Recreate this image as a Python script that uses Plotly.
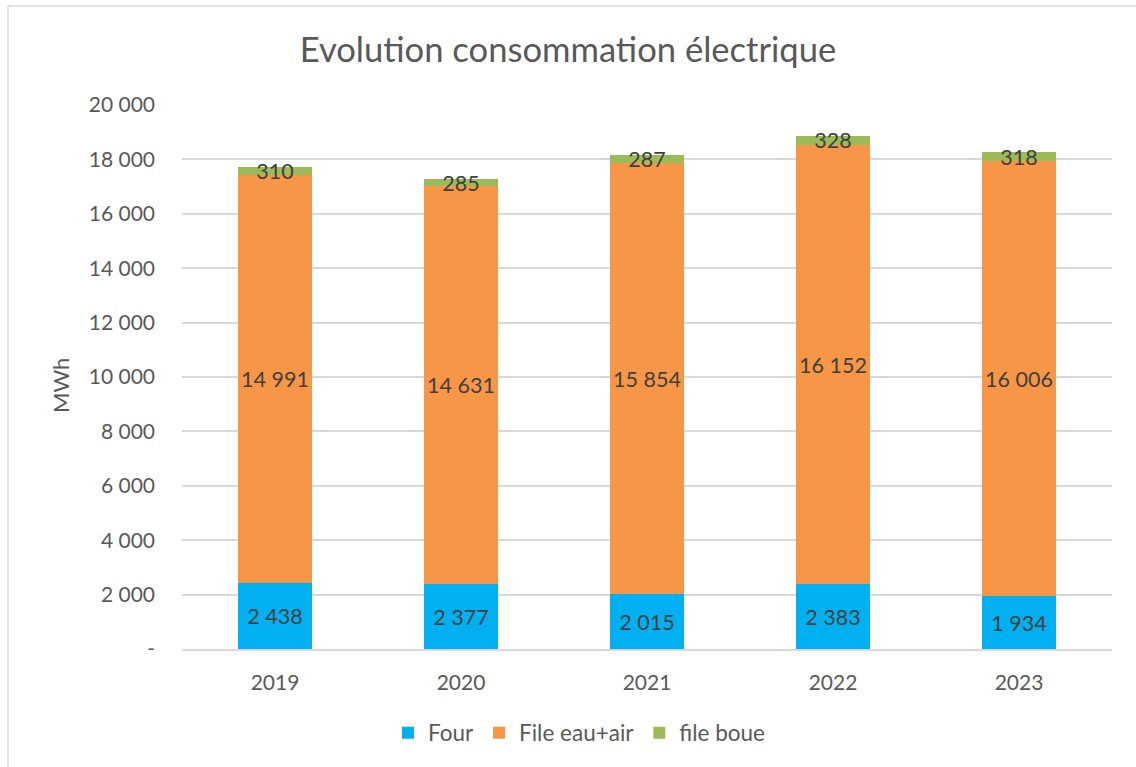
import plotly.graph_objects as go

years = ["2019", "2020", "2021", "2022", "2023"]
four = [2438, 2377, 2015, 2383, 1934]
file_eau_air = [14991, 14631, 15854, 16152, 16006]
file_boue = [310, 285, 287, 328, 318]

tick_vals = [0, 2000, 4000, 6000, 8000, 10000, 12000, 14000, 16000, 18000, 20000]
tick_text = ["-", "2 000", "4 000", "6 000", "8 000", "10 000", "12 000", "14 000", "16 000", "18 000", "20 000"]

FONT = "Lato, 'Open Sans', sans-serif"
TXT = "#404040"
GREY = "#595959"

def fmt(v):
    return f"{v:,}".replace(",", " ")

series = [
    ("Four", four, "#00b0f0"),
    ("File eau+air", file_eau_air, "#f79646"),
    ("file boue", file_boue, "#9bbb59"),
]

fig = go.Figure()
for name, vals, col in series:
    fig.add_trace(go.Bar(
        x=years, y=vals, name=name,
        marker=dict(color=col, line=dict(width=0)),
        text=[fmt(v) for v in vals],
        textposition="inside", insidetextanchor="middle",
        constraintext="none", textangle=0,
        textfont=dict(family=FONT, size=21.5, color=TXT),
        cliponaxis=False,
    ))

W, H = 1136, 767
ml, mr, mt, mb = 182, 24, 105, 118
pw, ph = W - ml - mr, H - mt - mb

def px(x):
    return (x - ml) / pw

def py(y):
    return (H - mb - y) / ph

fig.update_layout(
    width=W, height=H,
    barmode="stack", bargap=0.6,
    margin=dict(l=ml, r=mr, t=mt, b=mb),
    paper_bgcolor="white", plot_bgcolor="white",
    font=dict(family=FONT, color=GREY),
    title=dict(text="Evolution consommation électrique", x=0.5, xanchor="center",
               y=1 - 50 / H, yanchor="middle",
               font=dict(family=FONT, size=34.6, color=GREY)),
    xaxis=dict(tickfont=dict(size=21, color=GREY), showline=True,
               linecolor="#d9d9d9", linewidth=1.5, ticks="", ticklen=0,
               ticklabelstandoff=14),
    yaxis=dict(range=[0, 20000], tickvals=tick_vals, ticktext=tick_text,
               tickfont=dict(size=21, color=GREY),
               gridcolor="#d9d9d9", gridwidth=1.5, zeroline=False,
               ticklabelstandoff=26),
    legend=dict(orientation="h", x=px(388), xanchor="left", y=py(733), yanchor="middle",
                font=dict(size=22.5, color=GREY), traceorder="normal",
                itemwidth=30, tracegroupgap=0),
    annotations=[dict(text="MWh", xref="paper", yref="paper", x=px(60), y=py(385),
                      xanchor="center", yanchor="middle", textangle=-90, showarrow=False,
                      font=dict(family=FONT, size=22, color=GREY))],
    shapes=[dict(type="rect", xref="paper", yref="paper",
                 x0=px(8), x1=px(W + 10), y0=py(H + 10), y1=py(6),
                 line=dict(color="#d9d9d9", width=1.5), layer="below")],
)

fig.write_html("out.html", config={"displayModeBar": False},
               post_script="document.body.style.margin='0';")
